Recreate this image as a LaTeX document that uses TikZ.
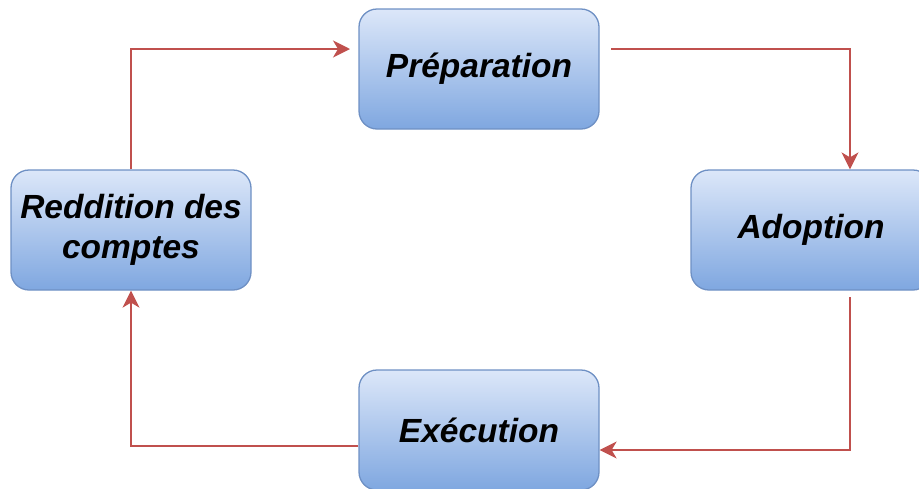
\documentclass[tikz,border=0pt]{standalone}
\usepackage{fontspec}
\setmainfont{Liberation Sans}
\usetikzlibrary{arrows.meta}
\definecolor{boxtop}{HTML}{DCE7F9}
\definecolor{boxbot}{HTML}{7FA7E0}
\definecolor{boxline}{HTML}{6E90C4}
\definecolor{arr}{HTML}{C0504D}
\tikzset{
  stagebox/.style={draw=boxline, line width=1.3pt, rounded corners=18pt,
    top color=boxtop, bottom color=boxbot, minimum width=240pt, minimum height=120pt,
    inner sep=0pt, align=center,
    font=\fontsize{33.5}{40}\selectfont\bfseries\itshape},
  flow/.style={draw=arr, line width=1.4pt, -{Stealth[length=17pt,width=17pt,inset=5pt]}},
}
\begin{document}
\begin{tikzpicture}[x=1pt,y=-1pt]
\useasboundingbox (0,0) rectangle (919,488);
\node[stagebox] (prep) at (479,69) {Préparation};
\node[stagebox] (redd) at (131,230) {Reddition des\\comptes};
\node[stagebox] (adop) at (811,230) {Adoption};
\node[stagebox] (exec) at (479,430) {Exécution};
\coordinate (prepin) at (350,49);
\coordinate (prepout) at (611,49);
\coordinate (adopout) at (850,297);
\draw[flow] (redd.north) |- (prepin);
\draw[flow] (prepout) -| (adop.north -| adopout);
\draw[flow] (adopout) |- (exec.east |- 0,450);
\draw[flow] (exec.west |- 0,446) -| (redd.south);
\end{tikzpicture}
\end{document}
